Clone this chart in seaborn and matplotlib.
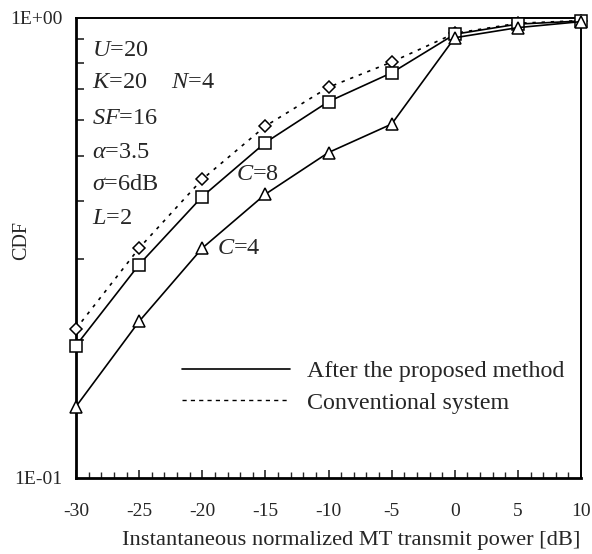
import numpy as np
import pandas as pd
import matplotlib
matplotlib.use("Agg")
import matplotlib.pyplot as plt
from matplotlib.lines import Line2D
from matplotlib.ticker import FixedLocator, NullFormatter, FixedFormatter
import seaborn as sns

sns.set_style("white")
plt.rcParams['font.family'] = ['Liberation Serif', 'DejaVu Serif']
plt.rcParams['mathtext.fontset'] = 'custom'
plt.rcParams['mathtext.rm'] = 'Liberation Serif'
plt.rcParams['mathtext.it'] = 'Liberation Serif:italic'

# ---- data ----
power_db = [-30, -25, -20, -15, -10, -5, 0, 5, 10]
cdf_c8 = [0.194, 0.291, 0.409, 0.536, 0.658, 0.760, 0.922, 0.970, 0.985]
cdf_c4 = [0.143, 0.219, 0.316, 0.414, 0.510, 0.588, 0.906, 0.953, 0.982]
cdf_conv = [0.211, 0.316, 0.446, 0.582, 0.707, 0.802, 0.926, 0.974, 0.987]
x_ticks = [-30, -25, -20, -15, -10, -5, 0, 5, 10]
y_tick_labels = ["1E-01", "1E+00"]
legend_labels = ["After the proposed method", "Conventional system"]
params = [r"$U$=20", r"$K$=20", r"$N$=4", r"$SF$=16", r"$\alpha$=3.5", r"$\sigma$=6dB", r"$L$=2"]
curve_labels = [r"$C$=8", r"$C$=4"]

fig = plt.figure(figsize=(5.92, 5.54), dpi=100)
ax = fig.add_axes([76/592, 1-478/554, (581-76)/592, (478-18)/554])

sns.lineplot(x=power_db, y=cdf_conv, ax=ax, color='black', lw=1.2,
             linestyle=(0, (2, 3.5)), marker='D', markersize=6,
             markerfacecolor='white', markeredgecolor='black', markeredgewidth=1.1, clip_on=False, zorder=3)
sns.lineplot(x=power_db, y=cdf_c8, ax=ax, color='black', lw=1.2,
             marker='s', markersize=8, markerfacecolor='white',
             markeredgecolor='black', markeredgewidth=1.1, clip_on=False, zorder=3)
sns.lineplot(x=power_db, y=cdf_c4, ax=ax, color='black', lw=1.2,
             marker='^', markersize=9, markerfacecolor='white',
             markeredgecolor='black', markeredgewidth=1.1, clip_on=False, zorder=3)

ax.set_yscale('log')
ax.set_xlim(-30, 10)
ax.set_ylim(0.1, 1.0)

ax.xaxis.set_major_locator(FixedLocator(x_ticks))
ax.set_xticklabels([str(t) for t in x_ticks])
ax.xaxis.set_minor_locator(FixedLocator(np.arange(-30, 11, 1)))
ax.yaxis.set_major_locator(FixedLocator([0.1, 1.0]))
ax.yaxis.set_major_formatter(FixedFormatter(y_tick_labels))
ax.yaxis.set_minor_locator(FixedLocator(np.arange(0.2, 1.0, 0.1)))
ax.yaxis.set_minor_formatter(NullFormatter())

ax.tick_params(axis='x', which='major', direction='in', length=6, width=1.2,
               labelsize=14, pad=18, top=False, bottom=True)
ax.tick_params(axis='x', which='minor', direction='in', length=4, width=1.0, top=False, bottom=True)
ax.tick_params(axis='y', which='major', direction='in', length=0, labelsize=14, pad=10, right=False, left=True)
ax.tick_params(axis='y', which='minor', direction='in', length=6, width=1.2, right=False, left=True)

for sp in ax.spines.values():
    sp.set_color('black')
    sp.set_linewidth(1.4)
ax.spines['left'].set_linewidth(2.0)
ax.spines['bottom'].set_linewidth(2.0)

ax.set_xlabel("Instantaneous normalized MT transmit power [dB]", fontsize=16.2)
ax.xaxis.set_label_coords((351 - 76) / 505, (478 - 540) / 460)
ax.xaxis.label.set_va('center')
ax.set_ylabel("CDF", fontsize=14.5)
ax.yaxis.set_label_coords((22 - 76) / 505, (478 - 240) / 460)
ax.yaxis.label.set_va('center')
ax.grid(False)

def px(xp, yp):
    # pixel -> axes fraction
    return ((xp - 76) / (581 - 76), (478 - yp) / (478 - 18))
def put(s, xp, yp, **kw):
    ax.text(*px(xp, yp), s, transform=ax.transAxes, fontsize=17.5, va='center', ha='left', **kw)

put(params[0], 92, 50)
put(params[1], 92, 83)
put(params[2], 171, 83)
put(params[3], 92, 118)
put(params[4], 92, 152)
put(params[5], 92, 185)
put(params[6], 92, 218)
put(curve_labels[0], 236, 175)
put(curve_labels[1], 217, 248)

handles = [Line2D([], [], color='black', lw=1.2),
           Line2D([], [], color='black', lw=1.0, linestyle=(0, (3, 3)))]
leg = ax.legend(handles, legend_labels, loc='center left',
                bbox_to_anchor=px(182, 387), frameon=False, fontsize=17.3,
                handlelength=4.5, handletextpad=0.7, labelspacing=0.42,
                borderpad=0, borderaxespad=0)

fig.savefig("out.png", dpi=100)
